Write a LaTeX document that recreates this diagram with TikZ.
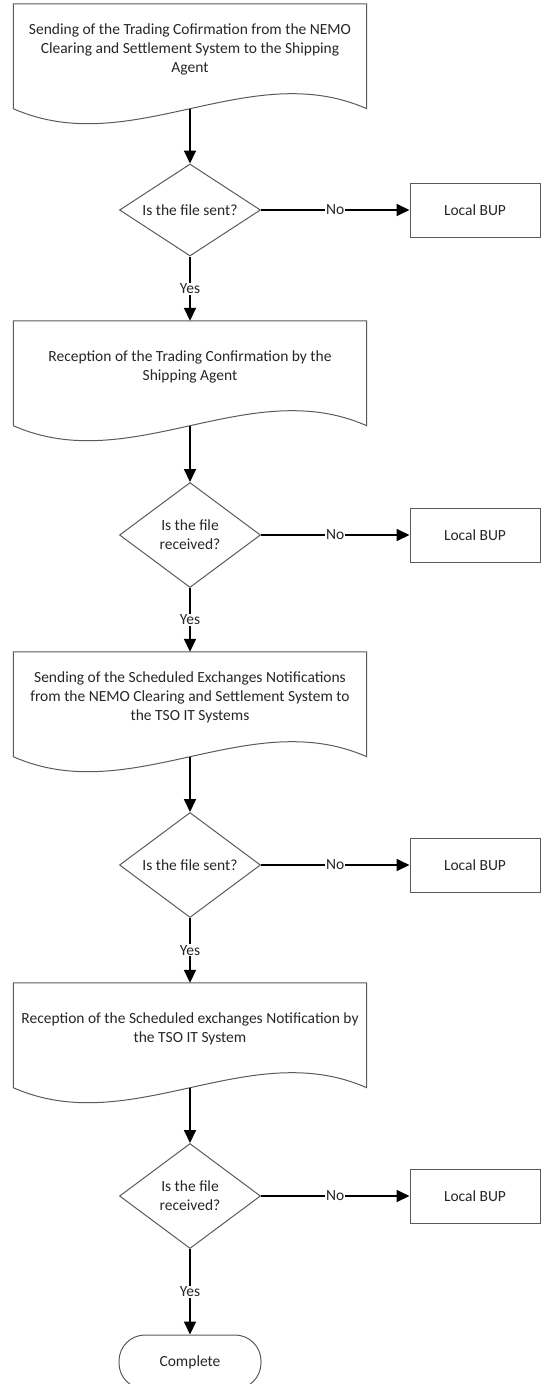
\documentclass[tikz,border=0pt]{standalone}
\usepackage{fontspec}
\setmainfont{Carlito}
\usetikzlibrary{shapes.geometric,arrows.meta,calc}
\definecolor{outl}{HTML}{5A5A5A}
\definecolor{txt}{HTML}{262626}
\tikzset{
  basefont/.style={font=\fontsize{15.5}{19}\selectfont, text=txt},
  docbox/.style={basefont, draw=none, minimum width=353pt, minimum height=91pt, inner sep=0pt, align=center},
  shapeline/.style={draw=outl, line width=1pt},
  dia/.style={basefont, diamond, draw=outl, line width=1pt, minimum width=141pt, inner sep=0pt, aspect=1.4, align=center},
  bup/.style={basefont, rectangle, draw=outl, line width=1pt, minimum width=130pt, minimum height=54pt},
  term/.style={basefont, rectangle, rounded corners=26pt, draw=outl, line width=1pt, minimum width=142pt, minimum height=54pt},
  conn/.style={draw=black, line width=1.8pt, -{Triangle[length=13pt,width=12pt]}},
  lbl/.style={basefont, fill=white, inner sep=1pt}
}
\newcommand\docoutline[1]{%
  \draw[shapeline] (#1.north west) -- ($(#1.south west)+(0,13.5)$)
    .. controls ($(#1.south west)+(117.7,65.5)$) and ($(#1.south east)+(-117.7,-38.5)$) ..
    ($(#1.south east)+(0,13.5)$) -- (#1.north east) -- cycle;
  \coordinate (#1w) at ($(#1.south)+(0,13.5)$);}
\begin{document}
\begin{tikzpicture}[x=1pt,y=-1pt]
\useasboundingbox (0,0) rectangle (541,1384);
% documents
\node[docbox] (d1) at (190,49.5) {Sending of the Trading Cofirmation from the NEMO\\Clearing and Settlement System to the Shipping\\Agent};
\docoutline{d1}
\node[docbox] (d2) at (190,366.5) {Reception of the Trading Confirmation by the\\Shipping Agent};
\docoutline{d2}
\node[docbox] (d3) at (190,697.5) {Sending of the Scheduled Exchanges Notifications\\from the NEMO Clearing and Settlement System to\\the TSO IT Systems};
\docoutline{d3}
\node[docbox] (d4) at (190,1028.5) {Reception of the Scheduled exchanges Notification by\\the TSO IT System};
\docoutline{d4}
% decisions
\node[dia, minimum height=92pt] (q1) at (190,210) {Is the file sent?};
\node[dia, minimum height=105pt] (q2) at (190,535) {Is the file\\received?};
\node[dia, minimum height=105pt] (q3) at (190,865) {Is the file sent?};
\node[dia, minimum height=105pt] (q4) at (190,1196) {Is the file\\received?};
% local BUP boxes
\node[bup] (b1) at (475,210) {Local BUP};
\node[bup] (b2) at (475,535) {Local BUP};
\node[bup] (b3) at (475,865) {Local BUP};
\node[bup] (b4) at (475,1196) {Local BUP};
% terminator
\node[term] (c) at (190,1362) {Complete};
% connectors
\draw[conn] (d1w) -- (q1.north);
\draw[conn] (q1.east) -- node[lbl]{No} (b1.west);
\draw[conn] (q1.south) -- node[lbl]{Yes} (d2.north);
\draw[conn] (d2w) -- (q2.north);
\draw[conn] (q2.east) -- node[lbl]{No} (b2.west);
\draw[conn] (q2.south) -- node[lbl]{Yes} (d3.north);
\draw[conn] (d3w) -- (q3.north);
\draw[conn] (q3.east) -- node[lbl]{No} (b3.west);
\draw[conn] (q3.south) -- node[lbl]{Yes} (d4.north);
\draw[conn] (d4w) -- (q4.north);
\draw[conn] (q4.east) -- node[lbl]{No} (b4.west);
\draw[conn] (q4.south) -- node[lbl]{Yes} (c.north);
\end{tikzpicture}
\end{document}
